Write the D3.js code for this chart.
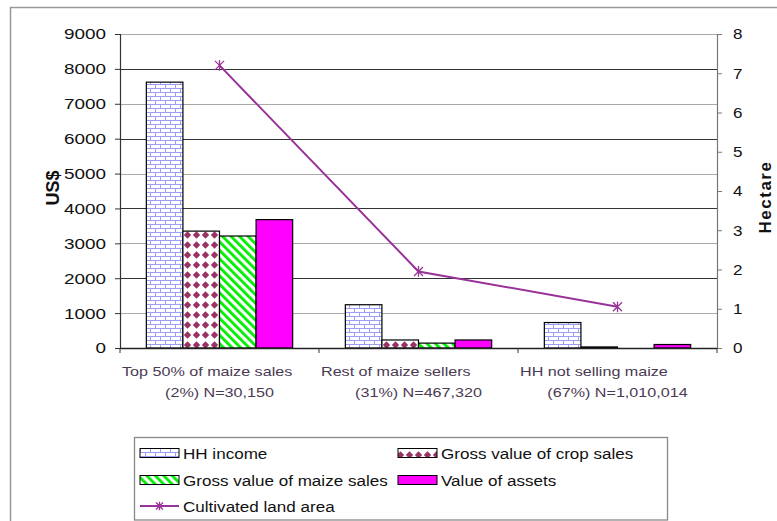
<!DOCTYPE html>
<html>
<head>
<meta charset="utf-8">
<script src="https://cdn.jsdelivr.net/npm/d3@7"></script>
<style>
  body { margin: 0; background: #fff; }
  svg { display: block; font-family: "Liberation Sans", Arial, sans-serif; }
</style>
</head>
<body>
<svg id="chart" width="777" height="521"></svg>
<script>
// data
const categories = [
  ['Top 50% of maize sales', '(2%) N=30,150'],
  ['Rest of maize sellers', '(31%) N=467,320'],
  ['HH not selling maize', '(67%) N=1,010,014']
];
const seriesNames = ['HH income', 'Gross value of crop sales', 'Gross value of maize sales', 'Value of assets'];
const hhIncome = [7620, 1240, 730];
const cropSales = [3350, 230, 30];
const maizeSales = [3210, 140, 0];
const assetValue = [3680, 230, 100];
const landArea = [7.2, 1.95, 1.05];
const lineName = 'Cultivated land area';
const usdTicks = [0, 1000, 2000, 3000, 4000, 5000, 6000, 7000, 8000, 9000];
const haTicks = [0, 1, 2, 3, 4, 5, 6, 7, 8];

const seriesValues = [hhIncome, cropSales, maizeSales, assetValue];
const seriesFill = ['url(#brick)', 'url(#dots)', 'url(#stripes)', '#ff00ff'];
const lineColor = '#993399';

const svg = d3.select('#chart');
const plot = { left: 120, right: 717, top: 34, bottom: 348 };

// stretch text horizontally (the picture is wider than normal glyphs)
function stretch(sel, k) {
  sel.each(function() {
    const w = this.getComputedTextLength();
    d3.select(this).attr('textLength', w * k).attr('lengthAdjust', 'spacingAndGlyphs');
  });
}

// outer border
svg.append('rect')
  .attr('x', 10.5).attr('y', 7.5).attr('width', 800).attr('height', 600)
  .attr('fill', '#fff').attr('stroke', '#999').attr('stroke-width', 1.5);

// patterns
const defs = svg.append('defs');
const brick = defs.append('pattern').attr('id', 'brick')
  .attr('patternUnits', 'userSpaceOnUse').attr('width', 10).attr('height', 8);
brick.append('rect').attr('width', 10).attr('height', 8).attr('fill', '#fff');
brick.append('path')
  .attr('d', 'M0,0.5H10M0,4.5H10M0.5,0.5V4.5M5.5,4.5V8')
  .attr('stroke', '#9d9df7').attr('stroke-width', 1).attr('fill', 'none');

const dots = defs.append('pattern').attr('id', 'dots')
  .attr('patternUnits', 'userSpaceOnUse').attr('width', 9).attr('height', 10);
dots.append('rect').attr('width', 9).attr('height', 10).attr('fill', '#fff');
dots.append('path').attr('d', 'M4.5,1.2L8.2,5L4.5,8.8L0.8,5Z').attr('fill', '#993366');

const stripes = defs.append('pattern').attr('id', 'stripes')
  .attr('patternUnits', 'userSpaceOnUse').attr('width', 6).attr('height', 6)
  .attr('patternTransform', 'rotate(-45)');
stripes.append('rect').attr('width', 6).attr('height', 6).attr('fill', '#fff');
stripes.append('rect').attr('width', 2.8).attr('height', 6).attr('fill', '#00ee00');

// scales
const x0 = d3.scaleBand().domain(d3.range(categories.length))
  .range([plot.left, plot.right]).padding(0);
const x1 = d3.scaleBand().domain(d3.range(seriesNames.length))
  .range([0, x0.bandwidth()]).paddingInner(0).paddingOuter(0.72);
const y = d3.scaleLinear().domain([0, 9000]).range([plot.bottom, plot.top]);
const y2 = d3.scaleLinear().domain([0, 8]).range([plot.bottom, plot.top]);

// gridlines (alternate dark / light like the scanned original)
svg.append('g').selectAll('line')
  .data(usdTicks.filter(d => d > 0))
  .join('line')
  .attr('x1', plot.left).attr('x2', plot.right)
  .attr('y1', d => Math.round(y(d)) + 0.5).attr('y2', d => Math.round(y(d)) + 0.5)
  .attr('stroke', d => (d / 1000) % 2 === 0 ? '#333' : '#aaa')
  .attr('stroke-width', 1);

// bars
const groups = svg.append('g').selectAll('g')
  .data(categories.map((c, i) => i))
  .join('g')
  .attr('transform', i => `translate(${x0(i)},0)`);
groups.selectAll('rect')
  .data(i => seriesValues.map((vals, s) => ({ s: s, v: vals[i] })))
  .join('rect')
  .filter(d => d.v > 0)
  .attr('x', d => x1(d.s))
  .attr('y', d => y(d.v))
  .attr('width', x1.bandwidth())
  .attr('height', d => y(0) - y(d.v))
  .attr('fill', d => seriesFill[d.s])
  .attr('stroke', '#000')
  .attr('stroke-width', 1.2);

// left axis
const yAxis = svg.append('g')
  .attr('transform', `translate(${plot.left},0)`)
  .call(d3.axisLeft(y).tickValues(usdTicks).tickFormat(d3.format('d')).tickSize(5).tickPadding(9));
yAxis.select('.domain').attr('stroke', '#333').attr('stroke-width', 1.2);
yAxis.selectAll('.tick line').attr('stroke', '#333');
yAxis.selectAll('text').attr('font-size', 15.5).attr('fill', '#111')
  .attr('font-family', '"Liberation Sans", Arial, sans-serif');
stretch(yAxis.selectAll('text'), 1.22);

// right axis
const y2Axis = svg.append('g')
  .attr('transform', `translate(${plot.right},0)`)
  .call(d3.axisRight(y2).tickValues(haTicks).tickFormat(d3.format('d')).tickSize(5).tickPadding(11));
y2Axis.select('.domain').attr('stroke', '#777').attr('stroke-width', 1.2);
y2Axis.selectAll('.tick line').attr('stroke', '#777');
y2Axis.selectAll('text').attr('font-size', 15.5).attr('fill', '#111')
  .attr('font-family', '"Liberation Sans", Arial, sans-serif');
stretch(y2Axis.selectAll('text'), 1.1);

// bottom axis
svg.append('line')
  .attr('x1', plot.left).attr('x2', plot.right)
  .attr('y1', plot.bottom + 0.5).attr('y2', plot.bottom + 0.5)
  .attr('stroke', '#222').attr('stroke-width', 1.3);
svg.append('g').selectAll('line')
  .data(d3.range(categories.length + 1))
  .join('line')
  .attr('x1', i => i < categories.length ? x0(i) : plot.right)
  .attr('x2', i => i < categories.length ? x0(i) : plot.right)
  .attr('y1', plot.bottom).attr('y2', plot.bottom + 5)
  .attr('stroke', '#333');

// category labels
const catLabels = svg.append('g').selectAll('g')
  .data(categories)
  .join('g');
catLabels.append('text')
  .attr('x', (d, i) => x0(i) + 2)
  .attr('y', 376)
  .attr('font-size', 13).attr('fill', '#4a3a52')
  .text(d => d[0]);
catLabels.append('text')
  .attr('x', (d, i) => x0(i) + x0.bandwidth() / 2)
  .attr('y', 397)
  .attr('text-anchor', 'middle')
  .attr('font-size', 13).attr('fill', '#4a3a52')
  .text(d => d[1]);
stretch(catLabels.selectAll('text'), 1.24);

// axis titles
svg.append('text')
  .attr('transform', 'translate(59,188) rotate(-90)')
  .attr('text-anchor', 'middle')
  .attr('font-size', 18).attr('font-weight', 'bold').attr('fill', '#111')
  .text('US$');
svg.append('text')
  .attr('transform', 'translate(771,197) rotate(-90)')
  .attr('text-anchor', 'middle')
  .attr('font-size', 17).attr('font-weight', 'bold').attr('fill', '#111')
  .attr('letter-spacing', 1.5)
  .text('Hectare');

// star marker (Excel "*")
function star(g, cx, cy, r) {
  g.append('path')
    .attr('d', `M${cx - r},${cy - r}L${cx + r},${cy + r}M${cx - r},${cy + r}L${cx + r},${cy - r}M${cx},${cy - r * 1.2}L${cx},${cy + r * 1.2}`)
    .attr('stroke', lineColor).attr('stroke-width', 1.3).attr('fill', 'none');
}

// line series on the hectare axis
const linePts = landArea.map((v, i) => [x0(i) + x0.bandwidth() / 2, y2(v)]);
svg.append('path')
  .attr('d', d3.line()(linePts))
  .attr('fill', 'none').attr('stroke', lineColor).attr('stroke-width', 2);
const markers = svg.append('g');
linePts.forEach(p => star(markers, p[0], p[1], 4.5));

// legend
const legend = svg.append('g');
legend.append('rect')
  .attr('x', 134.5).attr('y', 437.5).attr('width', 533).attr('height', 82.5)
  .attr('fill', '#fff').attr('stroke', '#888').attr('stroke-width', 1.3);
const legendCols = [140, 398];
const legendRows = [453, 480, 506];
const legendItems = seriesNames.map((name, s) => ({ name: name, s: s, col: s % 2, row: Math.floor(s / 2) }));
legendItems.forEach(d => {
  const lx = legendCols[d.col], ly = legendRows[d.row];
  legend.append('rect')
    .attr('x', lx).attr('y', ly - 4.5).attr('width', 39).attr('height', 9)
    .attr('fill', seriesFill[d.s]).attr('stroke', '#000').attr('stroke-width', 1);
  legend.append('text')
    .attr('class', 'legend-text')
    .attr('x', lx + 43).attr('y', ly + 5.5)
    .attr('font-size', 15.5).attr('fill', '#111')
    .text(d.name);
});
legend.append('line')
  .attr('x1', legendCols[0]).attr('x2', legendCols[0] + 39)
  .attr('y1', legendRows[2]).attr('y2', legendRows[2])
  .attr('stroke', lineColor).attr('stroke-width', 2);
star(legend, legendCols[0] + 19.5, legendRows[2], 3.5);
legend.append('text')
  .attr('class', 'legend-text')
  .attr('x', legendCols[0] + 43).attr('y', legendRows[2] + 5.5)
  .attr('font-size', 15.5).attr('fill', '#111')
  .text(lineName);
stretch(legend.selectAll('.legend-text'), 1.1);
</script>
</body>
</html>
